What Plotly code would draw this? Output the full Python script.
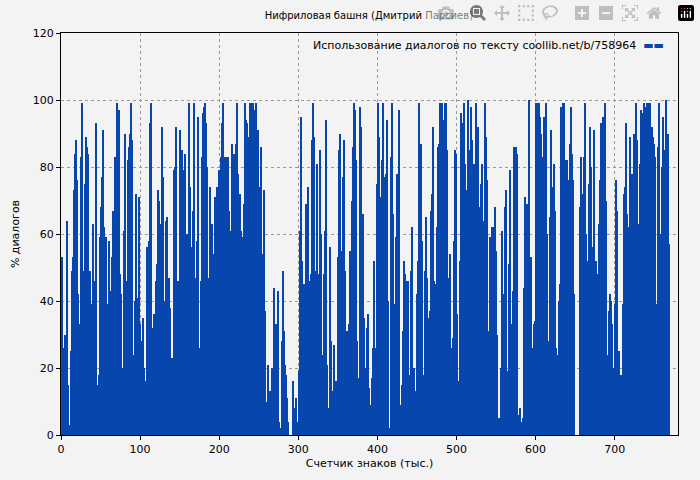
import numpy as np
import plotly.graph_objects as go

# доля диалогов (%) по отрезкам текста, шаг ~1.27 тыс. знаков
part1 = [24, 53, 26, 12, 30, 25, 64, 15, 0, 3, 25, 49, 53, 73, 84, 88, 76, 42, 0, 33,
         83, 99, 43, 49, 75, 89, 86, 84, 40, 49, 39, 31, 63, 34, 46, 93, 15, 4, 18, 59,
         68, 77, 91, 62, 58, 59, 39, 38, 58, 30, 43, 53, 67, 62, 83, 82, 99, 93, 97, 48,
         42, 15, 20, 61, 90, 46, 33, 82, 86, 90, 99, 88, 24, 4, 40, 72, 25, 41, 71, 33,
         28, 13, 35, 20, 16, 8, 56, 45, 58, 93, 99, 23, 32, 36, 21, 46, 51, 73, 70, 63,
         30, 92, 77, 31, 40, 64, 65, 33, 47, 38, 23, 22, 79, 80, 92, 46, 33, 46, 91, 63,
         85, 79, 60, 84, 56, 60, 54, 99, 74, 56, 32, 67, 99, 39, 47, 58, 95, 26, 15, 46,
         83, 96, 98, 99, 93, 80, 47, 19, 74, 48, 63, 27, 54, 71, 67, 74, 74, 79, 43, 83,
         93, 99, 83, 68, 83, 75, 83, 67, 47, 61, 87, 74, 84, 68, 87, 99, 78, 71, 72, 61,
         59, 29, 69, 99, 94, 93, 89, 50, 99, 99, 99, 99, 97, 94, 99, 58, 91, 69, 74, 86,
         37, 54, 73, 37, 8, 10, 21, 13]
part2 = [13, 13, 20, 10, 44, 30, 33, 22, 43, 4, 2, 0, 28, 49, 31, 21, 18, 11, 4, 0,
         0, 0, 0, 16, 8, 5, 11, 4, 0, 19, 61, 95, 52, 38, 45, 36, 69, 52, 74, 46,
         44, 48, 88, 99, 89, 40, 49, 81, 40, 48, 85, 60, 17, 24, 48, 61, 94, 21, 0, 8,
         56, 28, 6, 13, 27, 13, 16, 13, 53, 85, 90, 47, 55, 77, 88, 49, 17, 31, 16, 33,
         55, 45, 70, 86, 99, 97, 82, 28, 17, 0, 98, 92, 57, 66, 35, 6, 20, 32, 36, 14,
         1, 9, 17, 26, 52, 26, 25, 75, 99, 89, 59, 71, 82, 99, 71, 77, 78, 94, 40, 2,
         83, 99, 66, 32, 39, 59, 78, 31, 97, 9, 7, 15, 31, 52, 48, 46, 35, 46, 11, 18,
         49, 62, 16, 20, 11, 13, 42, 52, 99, 77, 87, 58, 13, 18, 49, 65, 47, 35, 28, 37,
         67, 72, 92, 46, 32, 45, 62, 86, 87, 99, 96, 99, 86, 94, 99, 99, 85, 47, 46, 54,
         26, 0, 29, 58, 85, 84, 36, 8, 16, 52, 96, 91, 93, 99, 81, 73, 62, 100, 85, 70, 98]
part3 = [88, 48, 81, 73, 99, 72, 92, 65, 68, 75, 81, 43, 64, 99, 89, 76, 31, 3, 59, 33,
         62, 16, 62, 68, 55, 30, 5, 0, 5, 20, 61, 30, 42, 68, 73, 3, 19, 51, 79, 17,
         33, 43, 86, 65, 86, 84, 0, 6, 8, 4, 4, 5, 44, 71, 56, 69, 22, 100, 26, 53,
         26, 21, 33, 34, 99, 99, 97, 99, 95, 90, 50, 83, 95, 48, 99, 60, 10, 28, 65, 91,
         74, 69, 81, 67, 26, 6, 24, 40, 45, 98, 76, 99, 99, 82, 72, 82, 75, 76, 87, 98,
         84, 76, 42, 0, 0, 0, 0, 0, 68, 83, 72, 34, 83, 99, 60, 52, 43, 75, 92, 80,
         35, 56, 91, 28, 52, 27, 48, 63, 76, 93, 89, 95, 67, 99, 70, 24, 37, 42, 40, 33,
         17, 20, 39, 76, 67, 18, 25, 12, 18, 10, 39, 72, 74, 93, 66, 62, 56, 89, 65, 78,
         68, 90, 88, 99, 88, 63, 61, 81, 97, 96, 47, 99, 90, 98, 99, 99, 90, 99, 81, 92,
         89, 87, 83, 39, 31, 86, 99, 57, 60, 80, 95, 85, 70, 100, 80, 90, 57]
values = part1 + part2 + part3
step = 1.27
pos = np.arange(len(values)) * step

label = "Использование диалогов по тексту coollib.net/b/758964"
blue = "#0646ad"

fig = go.Figure()
fig.add_trace(go.Bar(x=pos, y=values, width=step, name=label, showlegend=False,
                     marker=dict(color=blue, line=dict(width=0))))

# legend drawn as text with the colour sample on the right, like the original
fig.add_annotation(xref="paper", yref="paper", x=0.981, y=0.968,
                   xanchor="right", yanchor="middle", showarrow=False,
                   text=label + '  <span style="color:' + blue + '">▬▬</span>',
                   font=dict(size=11, color="black"))

axis = dict(showline=True, linecolor="black", linewidth=1, mirror=True,
            ticks="outside", ticklen=4, tickcolor="black",
            showgrid=True, gridcolor="#9a9a9a", griddash="3px,3px", gridwidth=1,
            zeroline=False, tickfont=dict(size=11, color="black"))

fig.update_layout(
    width=700, height=480,
    paper_bgcolor="#f3f3f3", plot_bgcolor="#f3f3f3",
    font=dict(family="DejaVu Sans", size=11, color="black"),
    title=dict(text="Нифриловая башня (Дмитрий Парсиев)", x=0.527, y=0.967,
               xanchor="center", yanchor="middle", font=dict(size=10)),
    margin=dict(l=61, r=22, t=33, b=41),
    bargap=0,
    xaxis=dict(axis, range=[0, 780], dtick=100,
               title=dict(text="Счетчик знаков (тыс.)", font=dict(size=11), standoff=4)),
    yaxis=dict(axis, range=[0, 120], dtick=20,
               title=dict(text="% диалогов", font=dict(size=11), standoff=10)),
)

fig.write_html("out.html", post_script="document.body.style.margin='0';")
